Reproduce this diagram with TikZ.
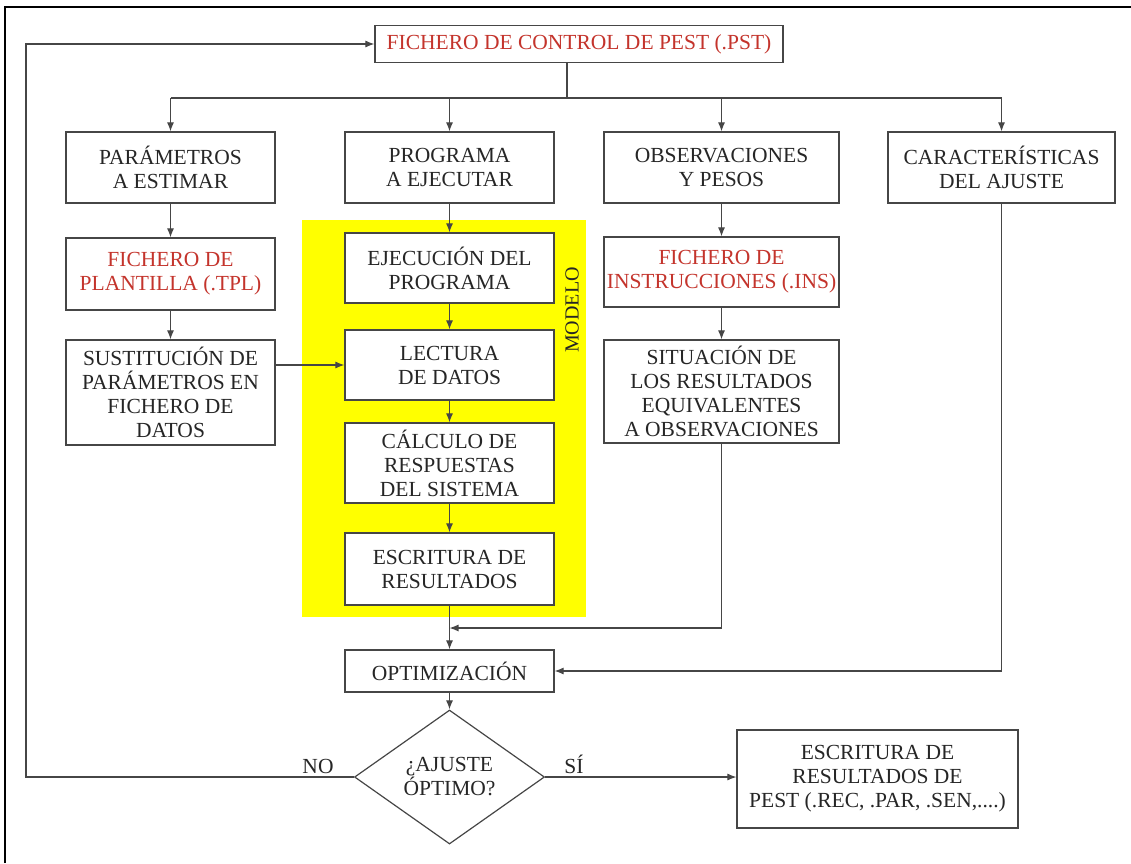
\documentclass[tikz,border=0pt]{standalone}
\usepackage{fontspec}
\setmainfont{Liberation Serif}
\usetikzlibrary{arrows.meta,shapes.geometric}
\definecolor{pestred}{RGB}{196,52,44}
\definecolor{lncol}{RGB}{70,70,70}
\definecolor{modyellow}{RGB}{255,255,0}
\begin{document}
\begin{tikzpicture}[x=1pt,y=-1pt,
  box/.style={draw=lncol, line width=1.2pt, fill=white, align=center, inner sep=0pt,
    font=\fontsize{21.5}{24}\selectfont, text=black!85},
  redtxt/.style={text=pestred},
  conn/.style={draw=lncol, line width=1.1pt},
  arr/.style={conn, -{Latex[length=9pt,width=7pt]}},
  lbl/.style={font=\fontsize{21.5}{24}\selectfont, text=black!85, inner sep=0pt},
]
\useasboundingbox (0,0) rectangle (1131,863);
% outer frame
\draw[line width=1.6pt, black] (5,863) -- (5,7) -- (1131,7);
% yellow model area
\fill[modyellow] (302,220) rectangle (586,617);
\node[lbl, rotate=90, font=\fontsize{20}{22}\selectfont] (modelo) at (572,310) {MODELO};

% nodes
\node[box, redtxt, minimum width=408, minimum height=37] (top) at (579,44) {FICHERO DE CONTROL DE PEST (.PST)};

\node[box, minimum width=209, minimum height=71] (par) at (170.5,167.5) {PARÁMETROS\\A ESTIMAR};
\node[box, minimum width=209, minimum height=71] (prog) at (449.5,167.5) {PROGRAMA\\A EJECUTAR};
\node[box, minimum width=235, minimum height=71] (obs) at (721.5,167.5) {OBSERVACIONES\\Y PESOS};
\node[box, minimum width=227, minimum height=71] (car) at (1001.5,167.5) {CARACTERÍSTICAS\\DEL AJUSTE};

\node[box, redtxt, minimum width=209, minimum height=72] (tpl) at (170.5,274) {FICHERO DE\\PLANTILLA (.TPL)};
\node[box, minimum width=209, minimum height=105] (sust) at (170.5,392.5) {SUSTITUCIÓN DE\\PARÁMETROS EN\\FICHERO DE\\DATOS};

\node[box, minimum width=209, minimum height=70] (ejec) at (449.5,268) {EJECUCIÓN DEL\\PROGRAMA};
\node[box, minimum width=209, minimum height=70] (lect) at (449.5,365) {LECTURA\\DE DATOS};
\node[box, minimum width=209, minimum height=80] (calc) at (449.5,463) {CÁLCULO DE\\RESPUESTAS\\DEL SISTEMA};
\node[box, minimum width=209, minimum height=72] (escr) at (449.5,569) {ESCRITURA DE\\RESULTADOS};

\node[box, redtxt, minimum width=235, minimum height=70] (ins) at (721.5,272) {FICHERO DE\\INSTRUCCIONES (.INS)};
\node[box, minimum width=235, minimum height=103] (sit) at (721.5,391.5) {SITUACIÓN DE\\LOS RESULTADOS\\EQUIVALENTES\\A OBSERVACIONES};

\node[box, minimum width=209, minimum height=42] (opt) at (449.5,671) {OPTIMIZACIÓN};
\node[box, diamond, minimum width=190, minimum height=134] (dia) at (449.5,777) {¿AJUSTE\\ÓPTIMO?};
\node[box, minimum width=281, minimum height=98] (fin) at (877.5,779) {ESCRITURA DE\\RESULTADOS DE\\PEST (.REC, .PAR, .SEN,....)};

\node[lbl, anchor=base] (no) at (318,773) {NO};
\node[lbl, anchor=base] (si) at (574,773) {SÍ};

% connectors
\coordinate (split) at (567,98);
\coordinate (mergeA) at (449.5,628);
\draw[conn] (top.south -| split) -- (split);
\draw[conn] (par.north |- split) -- (car.north |- split);
\draw[arr] (par.north |- split) -- (par.north);
\draw[arr] (prog.north |- split) -- (prog.north);
\draw[arr] (obs.north |- split) -- (obs.north);
\draw[arr] (car.north |- split) -- (car.north);

\draw[arr] (par) -- (tpl);
\draw[arr] (tpl) -- (sust);
\draw[arr] (prog) -- (ejec);
\draw[arr] (ejec) -- (lect);
\draw[arr] (lect) -- (calc);
\draw[arr] (calc) -- (escr);
\draw[arr] (sust.east |- lect) -- (lect.west);
\draw[arr] (obs) -- (ins);
\draw[arr] (ins) -- (sit);

\draw[arr] (escr) -- (opt);
\draw[arr] (sit.south) |- (mergeA);
\draw[arr] (car.south) |- (opt.east);
\draw[arr] (opt) -- (dia);
\draw[arr] (dia.east) -- (fin.west |- dia.east);
\draw[arr] (dia.west) -- (26,777) |- (top.west);
\end{tikzpicture}
\end{document}
